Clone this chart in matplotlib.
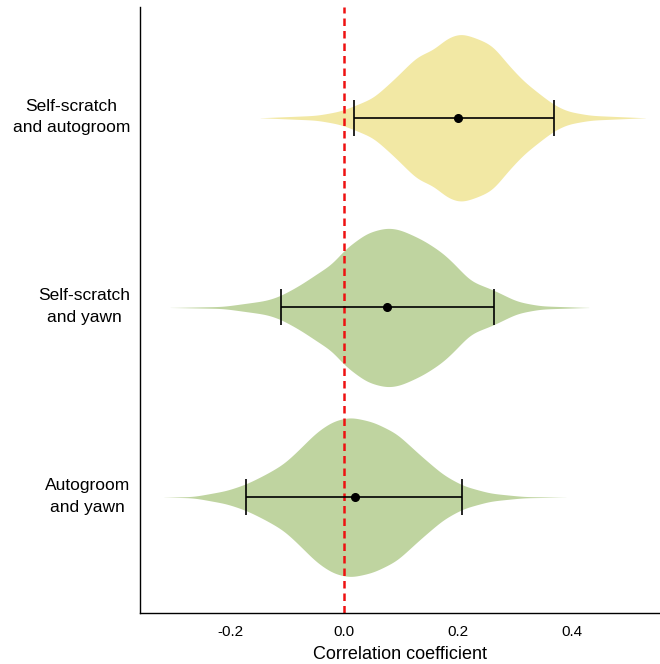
import numpy as np
import matplotlib.pyplot as plt
import matplotlib.transforms as mtransforms

plt.rcParams['font.family'] = ['Liberation Sans', 'DejaVu Sans']

# categories, top to bottom
labels = ['Self-scratch\nand autogroom', 'Self-scratch\nand yawn', 'Autogroom\nand yawn']
colors = ['#F2E8A4', '#BFD4A0', '#BFD4A0']

# point estimates and interval bounds
estimates = [0.200, 0.075, 0.019]
lower = [0.0175, -0.110, -0.172]
upper = [0.368, 0.263, 0.207]

# posterior density profiles
v1_x = [-0.147, -0.048, -0.007, 0.016, 0.051, 0.087, 0.128, 0.157, 0.180, 0.204,
        0.227, 0.250, 0.262, 0.285, 0.315, 0.344, 0.367, 0.391, 0.432, 0.528]
v1_d = [0.0, 0.12, 0.33, 0.58, 1.0, 1.92, 3.08, 3.42, 4.0, 4.25,
        4.05, 3.78, 3.58, 2.75, 1.83, 1.17, 0.67, 0.33, 0.12, 0.0]
v2_x = [-0.305, -0.212, -0.136, -0.112, -0.077, -0.042, -0.019, -0.001, 0.040, 0.075,
        0.098, 0.139, 0.174, 0.198, 0.221, 0.262, 0.303, 0.344, 0.429]
v2_d = [0.0, 0.05, 0.35, 0.58, 1.13, 1.8, 2.22, 2.88, 3.75, 4.02,
        3.92, 3.38, 2.72, 2.05, 1.33, 0.88, 0.30, 0.08, 0.0]
v3_x = [-0.316, -0.264, -0.206, -0.171, -0.136, -0.106, -0.083, -0.048, -0.019, 0.011,
        0.051, 0.092, 0.133, 0.174, 0.209, 0.256, 0.315, 0.389]
v3_d = [0.0, 0.03, 0.33, 0.67, 1.17, 1.67, 2.28, 3.28, 3.83, 4.03,
        3.78, 3.2, 2.12, 1.12, 0.57, 0.20, 0.03, 0.0]

profiles = [(v1_x, v1_d), (v2_x, v2_d), (v3_x, v3_d)]
positions = [2, 1, 0]

fig = plt.figure(figsize=(6.6, 6.64), dpi=100)
ax = fig.add_axes([0.212, 0.077, 0.788, 0.9125])

scale = 0.105  # density -> half-width in axis units
for (vx, vd), pos, col in zip(profiles, positions, colors):
    grid = np.linspace(vx[0], vx[-1], 400)
    dens = np.interp(grid, vx, vd)
    # light smoothing of the linear interpolation
    k = np.exp(-0.5 * (np.arange(-15, 16) / 6.0) ** 2)
    k /= k.sum()
    dens = np.convolve(np.pad(dens, 15, mode='edge'), k, mode='valid')
    ax.fill_between(grid, pos - dens * scale, pos + dens * scale,
                    color=col, linewidth=0, zorder=1)

ax.errorbar(estimates, positions,
            xerr=[np.array(estimates) - np.array(lower), np.array(upper) - np.array(estimates)],
            fmt='o', color='black', ms=5.5, elinewidth=1.2, capsize=13, capthick=1.2, zorder=3)

ax.axvline(0, color='#EE1111', linestyle=(0, (3, 2)), linewidth=1.8, zorder=2)

ax.set_xlim(-0.358, 0.554)
ax.set_ylim(-0.61, 2.584)
ax.set_xticks([-0.2, 0.0, 0.2, 0.4])
ax.set_xticklabels(['-0.2', '0.0', '0.2', '0.4'], fontsize=11)
ax.set_yticks(positions)
ax.set_yticklabels(labels, fontsize=12.5, multialignment='center', linespacing=1.55)
ax.tick_params(axis='x', length=0, pad=9)
ax.tick_params(axis='y', length=0, pad=7)
ax.set_xlabel('Correlation coefficient', fontsize=13, labelpad=5)

# nudge the two-line category labels up a little
shift = mtransforms.ScaledTranslation(0, 4 / 72, fig.dpi_scale_trans)
for lab in ax.get_yticklabels():
    lab.set_transform(lab.get_transform() + shift)

for s in ['top', 'right']:
    ax.spines[s].set_visible(False)
for s in ['left', 'bottom']:
    ax.spines[s].set_linewidth(1.0)

fig.savefig('out.png', dpi=100)
